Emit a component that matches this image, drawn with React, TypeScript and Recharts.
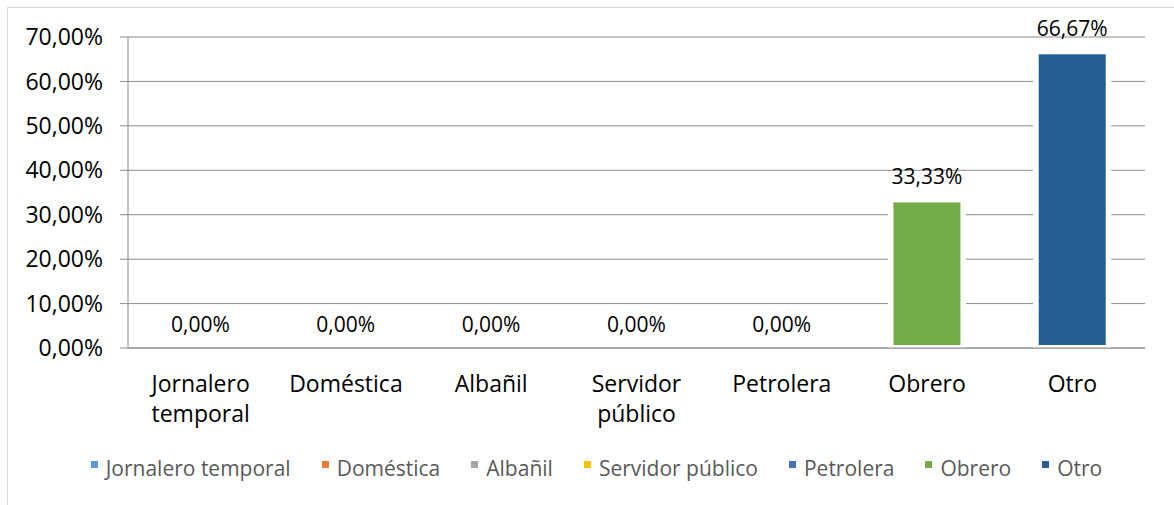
import React from 'react'
import { BarChart, Bar, XAxis, YAxis, CartesianGrid, Cell, LabelList, Legend } from 'recharts'

const categories = ['Jornalero temporal', 'Doméstica', 'Albañil', 'Servidor público', 'Petrolera', 'Obrero', 'Otro']
const values = [0, 0, 0, 0, 0, 33.33, 66.67]
const colors = ['#5B9BD5', '#ED7D31', '#A5A5A5', '#FFC000', '#4472C4', '#70AD47', '#255E91']
const yTicks = [0, 10, 20, 30, 40, 50, 60, 70]
const edgeTicks = [0, 1, 2, 3, 4, 5, 6, 7]

const data = categories.map((name, i) => ({ name, value: values[i] }))

const FONT = "'Open Sans', sans-serif"
const GRID = '#8c8c8c'

const pct = (v: number) => v.toFixed(2).replace('.', ',') + '%'

function CategoryTick(props: any) {
  const { x, y, payload } = props
  const words = String(payload.value).split(' ')
  return (
    <text x={x} y={y + 44} textAnchor="middle" fill="#000" fontSize={23} fontFamily={FONT}>
      {words.map((w, i) => (
        <tspan key={i} x={x} dy={i === 0 ? 0 : 30}>{w}</tspan>
      ))}
    </text>
  )
}

function BarShape(props: any) {
  const { x, y, width, height, fill } = props
  if (!height || height <= 0) return <g />
  return (
    <g>
      <rect x={x - 5.5} y={y} width={width + 11} height={height} fill="#fff" />
      <rect x={x} y={y + 2.5} width={width} height={height - 5.5} fill={fill} />
    </g>
  )
}

function ValueLabel(props: any) {
  const { x, y, width, value } = props
  return (
    <text x={x + width / 2} y={y - 24} textAnchor="middle" dominantBaseline="central" fill="#000" fontSize={21} fontFamily={FONT}>
      {pct(Number(value))}
    </text>
  )
}

function LegendBox() {
  return (
    <div style={{ height: 57, boxSizing: 'border-box', paddingTop: 8, paddingLeft: 48, display: 'flex', justifyContent: 'center', fontFamily: FONT, fontSize: 21, lineHeight: '24px', color: '#595959', whiteSpace: 'nowrap' }}>
      {categories.map((c, i) => (
        <div key={c} style={{ display: 'flex', alignItems: 'center', flexShrink: 0, marginLeft: i === 0 ? 0 : 31 }}>
          <span style={{ width: 7, height: 7, background: colors[i], marginRight: 8, display: 'inline-block', position: 'relative', top: -3 }} />
          <span>{c}</span>
        </div>
      ))}
    </div>
  )
}

export default function App() {
  return (
    <div style={{ position: 'absolute', left: 0, top: 0, width: 1174, height: 505, overflow: 'hidden', background: '#fff' }}>
      <div style={{ position: 'absolute', left: 7, top: 7, width: 1300, height: 700, border: '1px solid #d9d9d9' }} />
      <div style={{ position: 'absolute', left: 0, top: 0 }}>
        <BarChart width={1174} height={505} data={data} margin={{ top: 37, right: 29, left: 0, bottom: 0 }}>
          <CartesianGrid vertical={false} stroke={GRID} strokeWidth={1} />
          <XAxis xAxisId="edges" type="number" domain={[0, 7]} ticks={edgeTicks} height={0} axisLine={false}
            tickLine={{ stroke: GRID }} tickSize={9} tick={() => <g />} />
          <XAxis dataKey="name" height={100} axisLine={{ stroke: GRID }} tickLine={false} tickSize={0} tickMargin={0}
            interval={0} tick={<CategoryTick />} />
          <YAxis width={128} domain={[0, 70]} ticks={yTicks} tickFormatter={pct} axisLine={{ stroke: GRID }}
            tickLine={{ stroke: GRID }} tickSize={8} tickMargin={17}
            tick={{ fill: '#000', fontSize: 23, fontFamily: FONT }} />
          <Legend verticalAlign="bottom" content={() => <LegendBox />}
            wrapperStyle={{ top: 435, bottom: 'auto', left: 0, width: 1145 }} />
          <Bar dataKey="value" barSize={67} isAnimationActive={false} shape={<BarShape />}>
            {data.map((_, i) => (
              <Cell key={i} fill={colors[i]} />
            ))}
            <LabelList dataKey="value" content={<ValueLabel />} />
          </Bar>
        </BarChart>
      </div>
    </div>
  )
}
